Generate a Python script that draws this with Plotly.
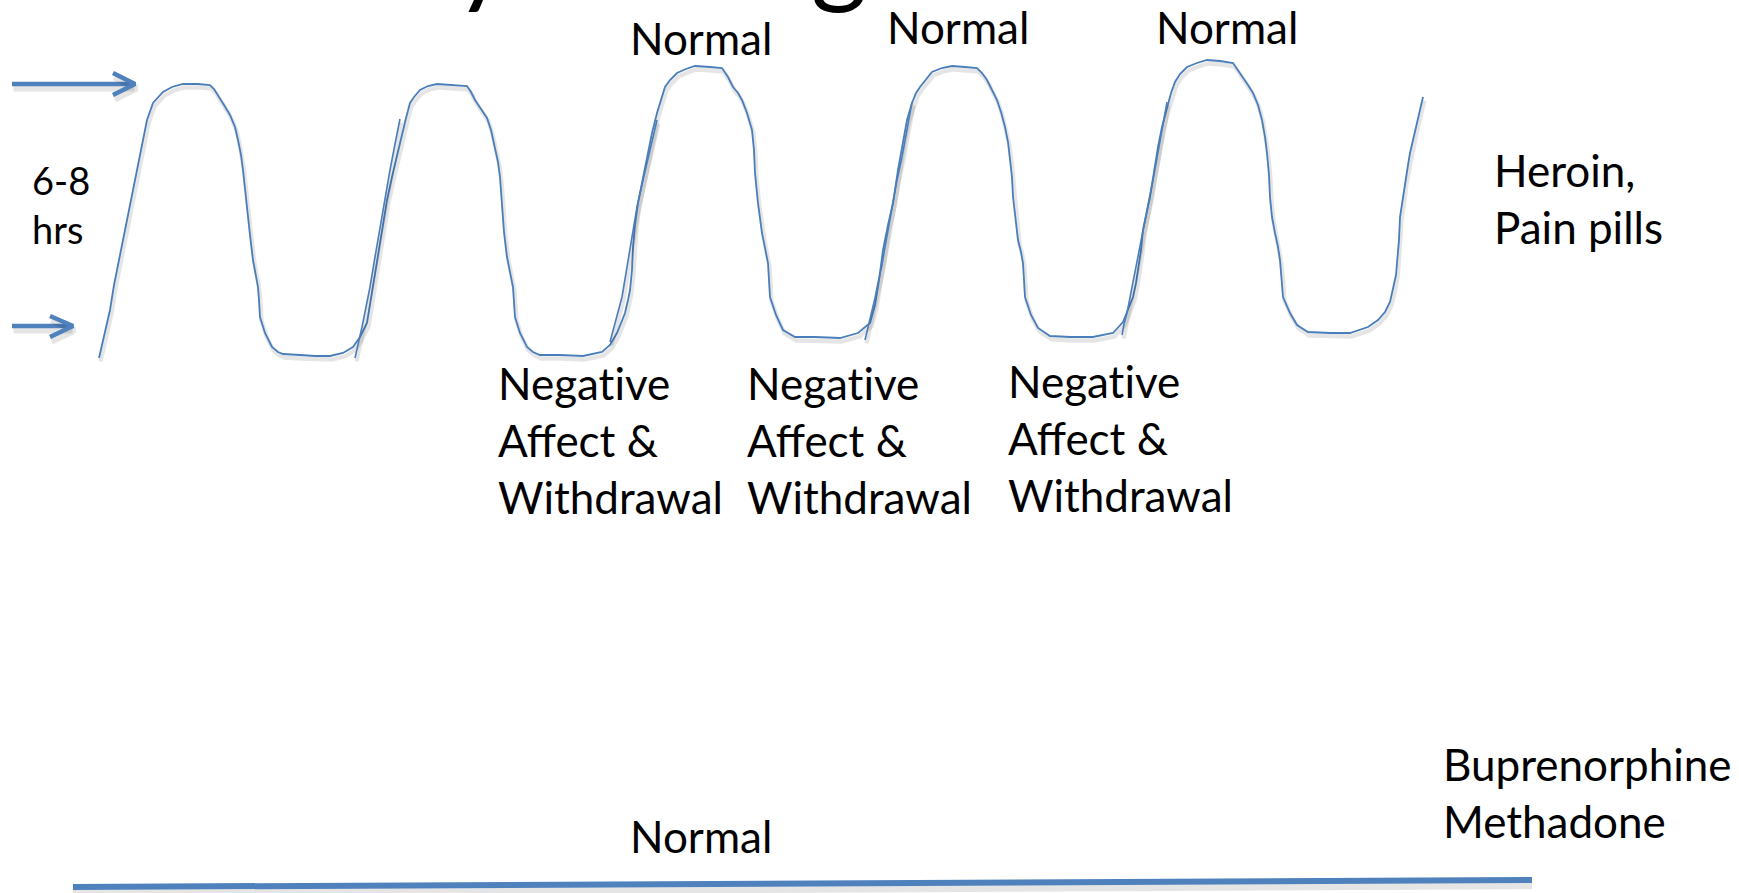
import plotly.graph_objects as go

W, H = 1739, 893
BLUE = "#4A7EBB"
FONT = "Lato"

# ---- data: hand-drawn effect curve (x = time axis, y = screen-down effect level) ----
wave_x = [99,104,110,114,118,122,125,130,135,139,143,147,153,157,163,172,183,198,210,214,218,224,230,235,238,241,243,245,247,250,253,256,258,259,260,265,272,278,283,300,315,330,343,353,360,367,370,373,378,383,387,392,397,402,406,410,414,420,428,437,450,467,471,475,481,487,491,495,498,500,501,502,504,507,510,513,514,515,520,527,533,540,560,583,602,610,617,621,625,628,630,632,633,635,638,643,648,652,657,661,665,670,677,686,695,710,722,728,733,738,742,747,752,754,755,758,762,765,768,769,770,776,783,795,815,840,858,870,875,879,883,888,893,898,903,907,912,916,920,926,932,942,952,965,977,982,987,992,997,1001,1005,1008,1010,1012,1013,1016,1018,1021,1023,1024,1025,1031,1038,1050,1070,1093,1113,1123,1128,1133,1136,1138,1141,1143,1147,1150,1154,1158,1162,1167,1171,1175,1180,1187,1197,1207,1220,1233,1238,1243,1248,1253,1258,1262,1265,1267,1269,1270,1272,1275,1278,1280,1282,1283,1290,1297,1308,1330,1350,1368,1378,1385,1390,1393,1396,1397,1399,1400,1403,1405,1408,1410,1413,1415,1419,1423]
wave_y = [358,335,310,285,263,245,230,205,180,158,137,120,103,99,92,87,84,84,85,89,95,105,115,127,140,155,170,190,210,235,260,275,287,300,317,333,347,352,354,355,356,356,353,347,337,323,305,287,257,227,200,177,155,133,118,103,97,90,86,84,85,86,92,100,109,118,130,147,162,177,192,207,232,257,272,287,302,317,333,347,352,355,355,356,352,345,333,323,313,300,290,270,247,225,203,178,153,133,113,100,87,80,73,69,66,67,68,77,87,93,100,113,130,150,173,203,233,248,263,280,297,315,330,337,337,338,333,323,305,280,250,225,203,170,140,120,103,93,87,80,72,68,66,67,68,73,80,90,100,112,127,142,157,177,197,220,240,252,263,280,297,315,328,336,337,337,333,322,310,297,283,270,250,230,213,197,172,147,127,107,93,82,74,67,63,60,61,63,70,77,85,93,105,120,137,153,175,197,217,233,247,260,280,297,313,325,332,333,333,327,320,312,302,290,275,263,240,217,197,180,165,153,140,130,113,97]

# overlapping re-drawn strokes on the rising edges
stroke1_x = [355,359,362,366,370,375,380,385,390,395,400]
stroke1_y = [358,342,327,307,287,257,227,198,170,144,119]
stroke2_x = [610,613,616,619,622,624,626,628,630,634,637,643,650,654,657]
stroke2_y = [342,331,320,308,297,285,273,260,247,225,207,180,150,135,120]
stroke3_x = [865,868,872,875,878,882,885,889,893,897,902,907,912]
stroke3_y = [340,327,313,298,283,265,247,225,203,180,157,130,102]
stroke4_x = [1122,1124,1127,1131,1135,1139,1143,1148,1153,1160,1167]
stroke4_y = [335,324,313,292,270,250,230,205,180,141,102]

# arrows marking the 6-8 hr band
arrow_top_x = [12, 133]
arrow_top_y = [84, 84]
head_top_x = [113, 135, 113]
head_top_y = [73, 84, 95]
arrow_bot_x = [12, 71]
arrow_bot_y = [326, 326]
head_bot_x = [50, 73, 50]
head_bot_y = [316, 326, 337]

# steady maintenance line
steady_x = [73, 1532]
steady_y = [887, 880]

# labels
ZWNJ = "\u200c"  # prevents the 'ti' ligature
title_text = "Daily Dosing"
peak_labels = ["Normal", "Normal", "Normal"]
peak_label_x = [701, 958, 1227]
peak_label_y = [38, 27, 27]
trough_labels = ["Negat" + ZWNJ + "ive<br>Affect &amp;<br>Withdrawal"] * 3
trough_label_x = [496, 745, 1006]
trough_label_y = [440, 440, 438]

fig = go.Figure()

def add_line(xs, ys, width, color=BLUE, shadow=True, sdx=1.5, sdy=3.5):
    if shadow:
        fig.add_trace(go.Scatter(x=[v + sdx for v in xs], y=[v + sdy for v in ys], mode="lines",
                                 line=dict(color="rgba(0,0,0,0.10)", width=width + 2.5, shape="linear"),
                                 hoverinfo="skip", showlegend=False))
    fig.add_trace(go.Scatter(x=xs, y=ys, mode="lines",
                             line=dict(color=color, width=width),
                             hoverinfo="skip", showlegend=False))

add_line(wave_x, wave_y, 1.8)
for sx, sy in [(stroke1_x, stroke1_y), (stroke2_x, stroke2_y), (stroke3_x, stroke3_y), (stroke4_x, stroke4_y)]:
    add_line(sx, sy, 1.6)

add_line(arrow_top_x, arrow_top_y, 4.5, color="#4F81BD", sdy=4)
add_line(head_top_x, head_top_y, 4.5, color="#4F81BD", sdy=4)
add_line(arrow_bot_x, arrow_bot_y, 4.5, color="#4F81BD", sdy=4)
add_line(head_bot_x, head_bot_y, 4.5, color="#4F81BD", sdy=4)
add_line(steady_x, steady_y, 6, color="#4F81BD", sdx=0, sdy=5)

FS = 44
anns = []
# title (mostly above the visible page, as in the reference)
anns.append(dict(x=568, y=18, text=title_text, showarrow=False, xanchor="center", yanchor="bottom",
                 font=dict(family=FONT, size=108, color="black")))
for t, x, y in zip(peak_labels, peak_label_x, peak_label_y):
    anns.append(dict(x=x, y=y, text=t, showarrow=False, xanchor="center", yanchor="middle",
                     font=dict(family=FONT, size=FS, color="black")))
for t, x, y in zip(trough_labels, trough_label_x, trough_label_y):
    anns.append(dict(x=x, y=y, text=t, showarrow=False, xanchor="left", yanchor="middle", align="left",
                     font=dict(family=FONT, size=FS, color="black")))
anns.append(dict(x=30, y=204, text="6-8<br>hrs", showarrow=False, xanchor="left", yanchor="middle", align="left",
                 font=dict(family=FONT, size=38, color="black")))
anns.append(dict(x=1492, y=198, text="Heroin,<br>Pain pills", showarrow=False, xanchor="left", yanchor="middle",
                 align="left", font=dict(family=FONT, size=FS, color="black")))
anns.append(dict(x=1441, y=792, text="Buprenorphine<br>Methadone", showarrow=False, xanchor="left",
                 yanchor="middle", align="left", font=dict(family=FONT, size=FS, color="black")))
anns.append(dict(x=701, y=836, text="Normal", showarrow=False, xanchor="center", yanchor="middle",
                 font=dict(family=FONT, size=FS, color="black")))

fig.update_layout(
    width=W, height=H,
    margin=dict(l=0, r=0, t=0, b=0),
    paper_bgcolor="white", plot_bgcolor="white",
    xaxis=dict(range=[0, W], visible=False, fixedrange=True),
    yaxis=dict(range=[H, 0], visible=False, fixedrange=True),
    annotations=anns,
    showlegend=False,
)

fig.write_html("out.html", config={"displayModeBar": False},
               post_script="document.body.style.margin='0';document.body.style.overflow='hidden';")
